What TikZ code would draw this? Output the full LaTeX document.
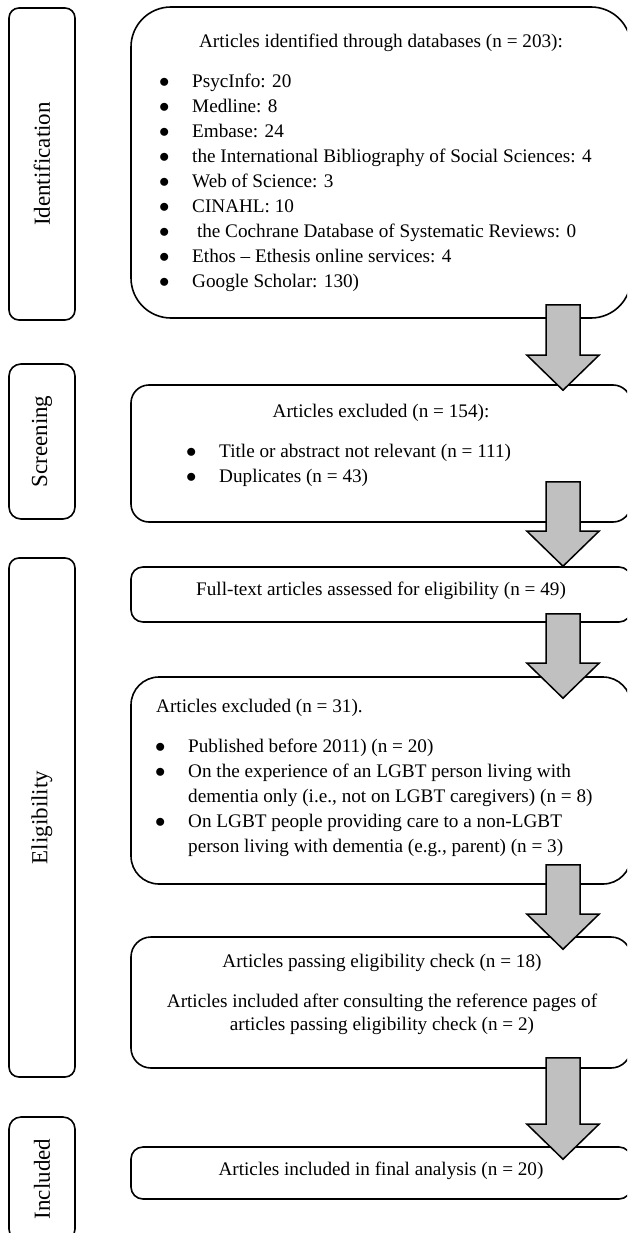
\documentclass[tikz,border=0pt]{standalone}
\usepackage{fontspec}
\setmainfont{Liberation Serif}
\usetikzlibrary{calc}

\definecolor{arrowgray}{HTML}{C0C0C0}

\tikzset{
  stage/.style={draw, line width=1.6pt, rotate=90, minimum height=66pt, inner sep=0pt,
    rounded corners=10pt, font=\fontsize{23}{27}\selectfont},
  box/.style={draw, line width=1.6pt, minimum width=500pt, inner sep=0pt},
  txt/.style={inner sep=0pt, font=\fontsize{19.2}{25}\selectfont},
  flow/.style={draw, line width=1.5pt, fill=arrowgray, line join=miter},
}

\newcommand\bul{\makebox[33pt][l]{$\bullet$}}
% block arrow: from box, to box, start above from.south, tip below to.north
\newcommand\flowarrow[4]{%
  \coordinate (st) at ($(#1.south -| axis)+(0,#3)$);
  \coordinate (tp) at ($(#2.north -| axis)+(0,-#4)$);
  \draw[flow] ($(st)+(-17,0)$) -- ($(tp)+(-17,35)$) -- ($(tp)+(-36,35)$) -- (tp)
    -- ($(tp)+(36,35)$) -- ($(tp)+(17,35)$) -- ($(st)+(17,0)$) -- cycle;
}

\begin{document}
\begin{tikzpicture}[x=1pt,y=1pt]
  \clip (0,0) rectangle (627,-1233);
  \coordinate (axis) at (563,0);

  % stages
  \node[stage, minimum width=312pt] (ident) at (42,-164) {Identification};
  \node[stage, minimum width=155pt, rounded corners=12pt] (screen) at (42,-441.5) {Screening};
  \node[stage, minimum width=519pt] (elig) at (42,-817.5) {Eligibility};
  \node[stage, minimum width=124pt, rounded corners=12pt] (incl) at (42,-1179) {Included};

  % boxes
  \node[box, minimum height=311pt, rounded corners=40pt] (b1) at (381,-162.5) {};
  \node[box, minimum height=137pt, rounded corners=18pt] (b2) at (381,-453.5) {};
  \node[box, minimum height=55pt, rounded corners=12pt] (b3) at (381,-594.5) {};
  \node[box, minimum height=207pt, rounded corners=28pt] (b4) at (381,-780.5) {};
  \node[box, minimum height=131pt, rounded corners=20pt] (b5) at (381,-1002.5) {};
  \node[box, minimum height=52pt, rounded corners=12pt] (b6) at (381,-1173) {};

  % texts
  \node[txt, anchor=base] (t1) at (381,-48) {Articles identified through databases (n = 203):};
  \node[txt, anchor=north west] (l1) at (159,-69.5) {\begin{tabular}{@{}l@{}}
    \bul PsycInfo: 20\\
    \bul Medline: 8\\
    \bul Embase: 24\\
    \bul the International Bibliography of Social Sciences: 4\\
    \bul Web of Science: 3\\
    \bul CINAHL: 10\\
    \bul\ the Cochrane Database of Systematic Reviews: 0\\
    \bul Ethos – Ethesis online services: 4\\
    \bul Google Scholar: 130)
  \end{tabular}};

  \node[txt, anchor=base] (t2) at (381,-417) {Articles excluded (n = 154):};
  \node[txt, anchor=north west] (l2) at (186,-439.5) {\begin{tabular}{@{}l@{}}
    \bul Title or abstract not relevant (n = 111)\\
    \bul Duplicates (n = 43)
  \end{tabular}};

  \node[txt, anchor=base] (t3) at (381,-595) {Full-text articles assessed for eligibility (n = 49)};

  \node[txt, anchor=base west] (t4) at (156,-712) {Articles excluded (n = 31).};
  \node[txt, anchor=north west] (l4) at (155,-734.5) {\begin{tabular}{@{}l@{}}
    \bul Published before 2011) (n = 20)\\
    \bul On the experience of an LGBT person living with\\
    \hspace{33pt}dementia only (i.e., not on LGBT caregivers) (n = 8)\\
    \bul On LGBT people providing care to a non-LGBT\\
    \hspace{33pt}person living with dementia (e.g., parent) (n = 3)
  \end{tabular}};

  \node[txt, anchor=base] (t5) at (382,-967) {Articles passing eligibility check (n = 18)};
  \node[txt, anchor=north, font=\fontsize{19.2}{23}\selectfont] (l5) at (382,-990.9) {\begin{tabular}{@{}c@{}}
    Articles included after consulting the reference pages of\\
    articles passing eligibility check (n = 2)
  \end{tabular}};

  \node[txt, anchor=base] (t6) at (381,-1175) {Articles included in final analysis (n = 20)};

  % arrows
  \flowarrow{b1}{b2}{14}{6}
  \flowarrow{b2}{b3}{41}{0}
  \flowarrow{b3}{b4}{9}{22}
  \flowarrow{b4}{b5}{20}{13}
  \flowarrow{b5}{b6}{11}{13}
\end{tikzpicture}
\end{document}
